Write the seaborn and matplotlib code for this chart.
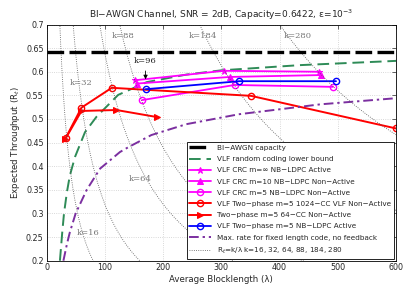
import numpy as np
import matplotlib
matplotlib.use('Agg')
import matplotlib.pyplot as plt
import seaborn as sns

# capacity of the channel
capacity = 0.6422

# VLF random coding lower bound
rc_lambda = [23, 27, 30, 35, 40, 49, 66, 86, 123, 172, 240, 300, 435, 600]
rc_rate = [0.20, 0.26, 0.30, 0.345, 0.38, 0.42, 0.472, 0.505, 0.551, 0.578, 0.594, 0.603, 0.614, 0.623]

# max rate for fixed length code, no feedback
fl_lambda = [29, 35, 40, 50, 69, 92, 126, 140, 180, 240, 330, 470, 600]
fl_rate = [0.20, 0.235, 0.26, 0.30, 0.35, 0.395, 0.43, 0.44, 0.466, 0.489, 0.51, 0.531, 0.544]

# VLF CRC NB-LDPC series
inf_lambda = [152, 304, 468]
inf_rate = [0.582, 0.602, 0.600]
m10_lambda = [155, 315, 472]
m10_rate = [0.575, 0.589, 0.593]
m5_lambda = [164, 323, 492]
m5_rate = [0.540, 0.572, 0.568]

# two-phase series
cc1024_lambda = [33, 60, 112, 351, 600]
cc1024_rate = [0.460, 0.524, 0.566, 0.549, 0.480]
cc64_lambda = [32, 60, 120, 190]
cc64_rate = [0.457, 0.517, 0.519, 0.504]
ldpc_lambda = [170, 331, 497]
ldpc_rate = [0.563, 0.580, 0.580]

# R_t = k / lambda reference curves
k_values = [16, 32, 64, 88, 184, 280]
k_label_x = [71, 59, 160, 132, 269, 432]
k_label_y = [0.259, 0.577, 0.374, 0.676, 0.676, 0.676]

sns.set_style('white')
plt.rcParams['font.family'] = ['DejaVu Sans']

fig = plt.figure(figsize=(4.07, 2.90), dpi=100)
ax = fig.add_axes([0.1143, 0.101, 0.973 - 0.1143, 0.9155 - 0.101])

ax.axhline(capacity, color='black', lw=2.4, linestyle=(0, (5, 1.6)), label='BI\u2212AWGN capacity', zorder=3)

sns.lineplot(x=rc_lambda, y=rc_rate, ax=ax, color='#2e8b57', lw=1.4, linestyle=(0, (6, 3)),
             sort=False, estimator=None, label='VLF random coding lower bound')

sns.lineplot(x=inf_lambda, y=inf_rate, ax=ax, color='#ff00ff', lw=1.3, marker='*', ms=5,
             mec='#ff00ff', sort=False, estimator=None, label='VLF CRC m=\u221e NB\u2212LDPC Active')
sns.lineplot(x=m10_lambda, y=m10_rate, ax=ax, color='#ff00ff', lw=1.3, marker='^', ms=4,
             mec='#ff00ff', sort=False, estimator=None, label='VLF CRC m=10 NB\u2212LDPC Non\u2212Active')
sns.lineplot(x=m5_lambda, y=m5_rate, ax=ax, color='#ff00ff', lw=1.3, marker='o', ms=4.5,
             mfc='none', mec='#ff00ff', mew=1.0, sort=False, estimator=None,
             label='VLF CRC m=5 NB\u2212LDPC Non\u2212Active')

sns.lineplot(x=cc1024_lambda, y=cc1024_rate, ax=ax, color='#ff0000', lw=1.4, marker='o', ms=4.5,
             mfc='none', mec='#ff0000', mew=1.0, sort=False, estimator=None,
             label='VLF Two\u2212phase m=5 1024\u2212CC VLF Non\u2212Active')
sns.lineplot(x=cc64_lambda, y=cc64_rate, ax=ax, color='#ff0000', lw=1.4, marker='>', ms=5,
             mec='#ff0000', sort=False, estimator=None, label='Two\u2212phase m=5 64\u2212CC Non\u2212Active')
sns.lineplot(x=ldpc_lambda, y=ldpc_rate, ax=ax, color='#0000ff', lw=1.3, marker='o', ms=4.5,
             mfc='none', mec='#0000ff', mew=1.0, sort=False, estimator=None,
             label='VLF Two\u2212phase m=5 NB\u2212LDPC Active')

sns.lineplot(x=fl_lambda, y=fl_rate, ax=ax, color='#7b2fa0', lw=1.4, linestyle=(0, (5, 2, 1.2, 2)),
             sort=False, estimator=None, label='Max. rate for fixed length code, no feedback')

for i, k in enumerate(k_values):
    lam = np.linspace(k / 0.72, k / 0.19, 200)
    ax.plot(lam, k / lam, color='#555555', lw=0.6, linestyle=':',
            label='R$_t$=k/\u03bb k=16, 32, 64, 88, 184, 280' if i == 0 else None)
    ax.text(k_label_x[i], k_label_y[i], f'k={k}', family='serif', fontsize=6,
            color='#777777', ha='center', va='center')

ax.annotate('k=96', xy=(170, 0.578), xytext=(170, 0.623), fontsize=6, family='serif',
            ha='center', va='center',
            arrowprops=dict(arrowstyle='-|>', color='black', lw=0.6, mutation_scale=6))

ax.set_xlim(0, 600)
ax.set_ylim(0.2, 0.7)
ax.set_xticks(range(0, 601, 100))
ax.set_yticks(np.arange(0.2, 0.701, 0.05))
ax.set_yticklabels(['0.2', '0.25', '0.3', '0.35', '0.4', '0.45', '0.5', '0.55', '0.6', '0.65', '0.7'])
ax.tick_params(direction='in', length=3, width=0.5, labelsize=5.8, pad=2, top=True, right=True)
ax.grid(True, color='#cccccc', linestyle=':', lw=0.6)
for s in ax.spines.values():
    s.set_color('black')
    s.set_linewidth(0.6)

ax.set_xlabel('Average Blocklength (\u03bb)', fontsize=6.2, labelpad=2)
ax.set_ylabel('Expected Throughput (R$_t$)', fontsize=6.2, labelpad=3)
ax.set_title('BI\u2212AWGN Channel, SNR = 2dB, Capacity=0.6422, \u03b5=10$^{-3}$', fontsize=6.5, pad=5)

leg = ax.legend(loc='lower right', fontsize=5.25, handlelength=3, labelspacing=0.7,
                borderaxespad=0.25, framealpha=1, fancybox=False, edgecolor='black')
leg.get_frame().set_linewidth(0.6)

fig.savefig('out.png', dpi=100)
